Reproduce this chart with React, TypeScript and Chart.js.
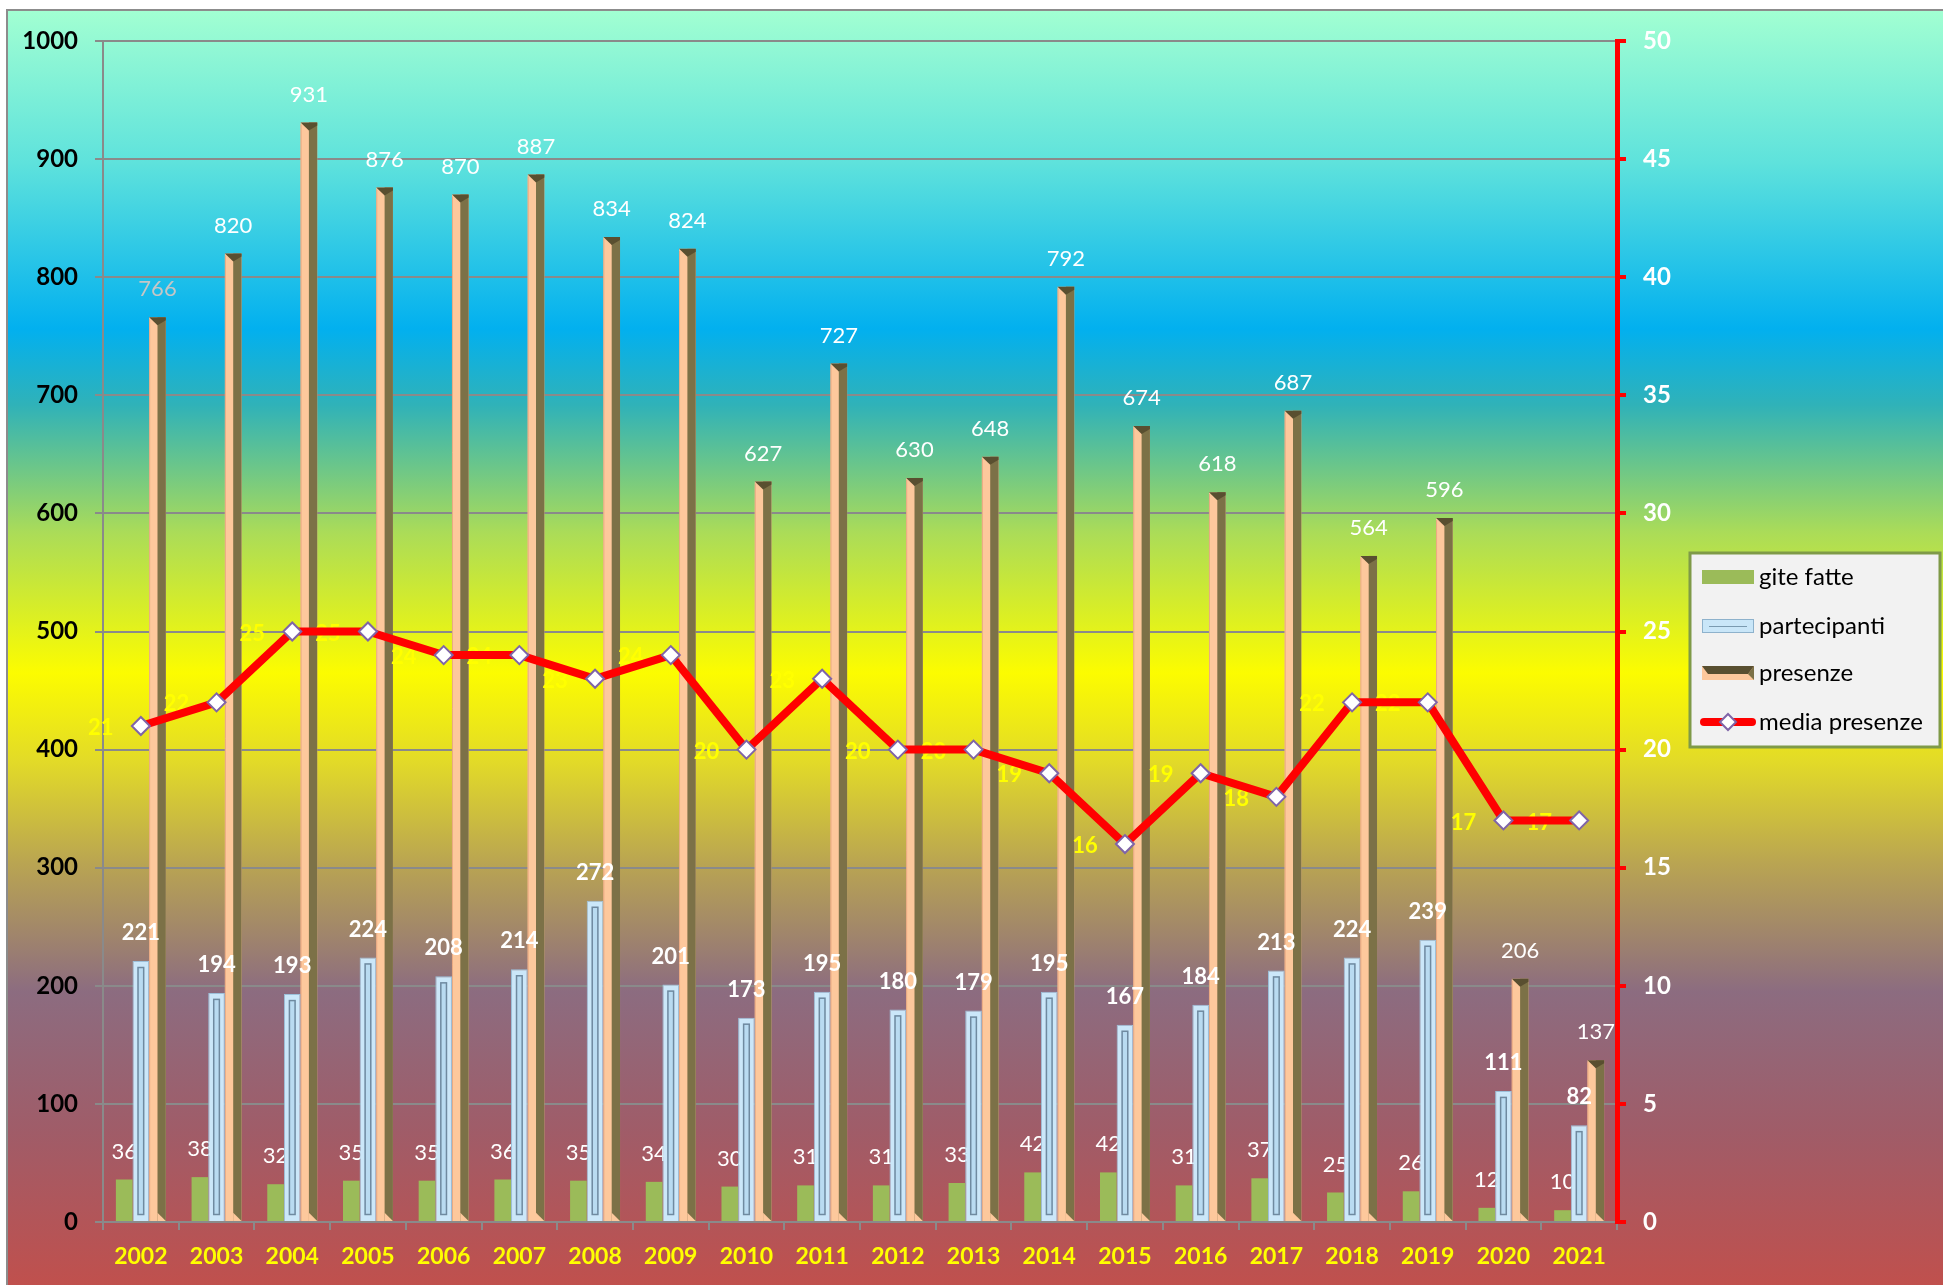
import React, { useEffect, useRef } from "react";
import { Chart, registerables } from "chart.js";

Chart.register(...registerables);

const YEARS = ["2002","2003","2004","2005","2006","2007","2008","2009","2010","2011","2012","2013","2014","2015","2016","2017","2018","2019","2020","2021"];
const GITE_FATTE = [36,38,32,35,35,36,35,34,30,31,31,33,42,42,31,37,25,26,12,10];
const PARTECIPANTI = [221,194,193,224,208,214,272,201,173,195,180,179,195,167,184,213,224,239,111,82];
const PRESENZE = [766,820,931,876,870,887,834,824,627,727,630,648,792,674,618,687,564,596,206,137];
const MEDIA_PRESENZE = [21,22,25,25,24,24,23,24,20,23,20,20,19,16,19,18,22,22,17,17];
const LEGEND_LABELS = ["gite fatte","partecipanti","presenze","media presenze"];

const FONT = "Lato, 'Open Sans', sans-serif";
const W = 1943;
const H = 1285;

const bgPlugin = {
  id: "bg",
  beforeDraw(chart: any) {
    const ctx = chart.ctx;
    ctx.save();
    ctx.fillStyle = "#ffffff";
    ctx.fillRect(0, 0, chart.width, chart.height);
    const g = ctx.createLinearGradient(0, 10, 0, chart.height);
    g.addColorStop(0, "#a2ffd2");
    g.addColorStop(0.12, "#5ee2dc");
    g.addColorStop(0.25, "#02b0ef");
    g.addColorStop(0.31, "#30b2b8");
    g.addColorStop(0.41, "#abdc58");
    g.addColorStop(0.52, "#fcfc00");
    g.addColorStop(0.59, "#e2da28");
    g.addColorStop(0.67, "#b9a452");
    g.addColorStop(0.77, "#8c6c80");
    g.addColorStop(0.88, "#a05c68");
    g.addColorStop(1, "#c0504d");
    ctx.fillStyle = g;
    ctx.fillRect(7, 10, chart.width - 7, chart.height - 10);
    ctx.strokeStyle = "#8c8c8c";
    ctx.lineWidth = 2;
    ctx.beginPath();
    ctx.moveTo(7, chart.height);
    ctx.lineTo(7, 10);
    ctx.lineTo(chart.width, 10);
    ctx.stroke();
    ctx.restore();
  },
};

function text(ctx: any, s: string, x: number, y: number, color: string, weight: string, size: number = 22) {
  ctx.font = `${weight} ${size}px ${FONT}`;
  ctx.fillStyle = color;
  ctx.textAlign = "center";
  ctx.textBaseline = "middle";
  ctx.fillText(s, x, y);
}

// dataset indexes: 0 gite, 1 partecipanti, 2 presenze, 3 media
// draw sequence of bars: presenze (2) -> partecipanti (1) -> gite (0) -> line (3)
const decorPlugin = {
  id: "decor",
  afterDatasetDraw(chart: any, args: any) {
    const ctx = chart.ctx;
    const idx = args.index;
    ctx.save();
    if (idx === 2) {
      const meta = chart.getDatasetMeta(2);
      meta.data.forEach((el: any) => {
        const p = el.getProps(["x", "y", "base", "width"], true);
        const l = p.x - p.width / 2;
        const r = p.x + p.width / 2;
        const m = p.x;
        ctx.fillStyle = "#7c7147";
        ctx.fillRect(m, p.y, r - m, p.base - p.y);
        ctx.fillStyle = "#fdc89c";
        ctx.beginPath();
        ctx.moveTo(m, p.base - (r - m));
        ctx.lineTo(r, p.base);
        ctx.lineTo(m, p.base);
        ctx.closePath();
        ctx.fill();
        ctx.fillStyle = "#594f30";
        ctx.beginPath();
        ctx.moveTo(l, p.y);
        ctx.lineTo(r, p.y);
        ctx.lineTo(r, p.y + 3);
        ctx.lineTo(m, p.y + 8);
        ctx.closePath();
        ctx.fill();
        ctx.strokeStyle = "#eaa982";
        ctx.lineWidth = 1;
        ctx.beginPath();
        ctx.moveTo(l + 0.5, p.y + 2);
        ctx.lineTo(l + 0.5, p.base);
        ctx.stroke();
      });
      // gite labels sit behind the partecipanti bars
      const m0 = chart.getDatasetMeta(0);
      m0.data.forEach((el: any, i: number) => {
        const p = el.getProps(["x", "y"], true);
        text(ctx, String(GITE_FATTE[i]), p.x, p.y - 28, "#ffffff", "normal");
      });
    } else if (idx === 1) {
      const meta = chart.getDatasetMeta(1);
      meta.data.forEach((el: any) => {
        const p = el.getProps(["x", "y", "base", "width"], true);
        const l = p.x - p.width / 2;
        const w = p.width;
        const h = p.base - p.y;
        ctx.fillStyle = "#b9dbf1";
        ctx.fillRect(l + 5, p.y + 6, w - 10, h - 12);
        ctx.strokeStyle = "#6f8aa0";
        ctx.lineWidth = 1.5;
        ctx.strokeRect(l + 5.5, p.y + 6.5, w - 11, h - 13);
      });
    } else if (idx === 0) {
      const m1 = chart.getDatasetMeta(1);
      m1.data.forEach((el: any, i: number) => {
        const p = el.getProps(["x", "y"], true);
        text(ctx, String(PARTECIPANTI[i]), p.x, p.y - 28, "#ffffff", "bold");
      });
      const m2 = chart.getDatasetMeta(2);
      m2.data.forEach((el: any, i: number) => {
        const p = el.getProps(["x", "y"], true);
        text(ctx, String(PRESENZE[i]), p.x, p.y - 28, i === 0 ? "#c6c6c6" : "#ffffff", "normal");
      });
      const m3 = chart.getDatasetMeta(3);
      m3.data.forEach((el: any, i: number) => {
        const p = el.getProps(["x", "y"], true);
        text(ctx, String(MEDIA_PRESENZE[i]), p.x - 40, p.y + 2, "#ffff00", "bold");
      });
    }
    ctx.restore();
  },
  afterDraw(chart: any) {
    const ctx = chart.ctx;
    ctx.save();
    const bx = 1690, by = 553, bw = 250, bh = 194;
    ctx.fillStyle = "#f2f2f2";
    ctx.fillRect(bx, by, bw, bh);
    ctx.strokeStyle = "#7f9a48";
    ctx.lineWidth = 3;
    ctx.strokeRect(bx, by, bw, bh);
    const rows = [577, 626, 673, 722];
    const sx = 1702, sw = 52;
    ctx.fillStyle = "#9bbb59";
    ctx.fillRect(sx, rows[0] - 7, sw, 14);
    ctx.fillStyle = "#c9e6f8";
    ctx.fillRect(sx, rows[1] - 7, sw, 14);
    ctx.strokeStyle = "#8eb2cc";
    ctx.lineWidth = 1;
    ctx.strokeRect(sx + 0.5, rows[1] - 6.5, sw - 1, 13);
    ctx.strokeStyle = "#7a9ab0";
    ctx.beginPath();
    ctx.moveTo(sx + 7, rows[1] + 0.5);
    ctx.lineTo(sx + sw - 7, rows[1] + 0.5);
    ctx.stroke();
    ctx.fillStyle = "#fdc89c";
    ctx.fillRect(sx, rows[2] - 7, sw, 14);
    ctx.fillStyle = "#7c7147";
    ctx.beginPath();
    ctx.moveTo(sx + sw, rows[2] - 7);
    ctx.lineTo(sx + sw, rows[2] + 7);
    ctx.lineTo(sx + sw - 6, rows[2] + 1);
    ctx.closePath();
    ctx.fill();
    ctx.fillStyle = "#594f30";
    ctx.beginPath();
    ctx.moveTo(sx, rows[2] - 7);
    ctx.lineTo(sx + sw, rows[2] - 7);
    ctx.lineTo(sx + sw - 6, rows[2] + 1);
    ctx.lineTo(sx + 6, rows[2] + 1);
    ctx.closePath();
    ctx.fill();
    ctx.strokeStyle = "#ff0000";
    ctx.lineWidth = 8;
    ctx.lineCap = "round";
    ctx.beginPath();
    ctx.moveTo(sx + 2, rows[3]);
    ctx.lineTo(sx + sw - 2, rows[3]);
    ctx.stroke();
    ctx.lineCap = "butt";
    const cx = sx + sw / 2, cy = rows[3], rr = 8;
    ctx.fillStyle = "#ffffff";
    ctx.strokeStyle = "#7f64a8";
    ctx.lineWidth = 2;
    ctx.beginPath();
    ctx.moveTo(cx, cy - rr);
    ctx.lineTo(cx + rr, cy);
    ctx.lineTo(cx, cy + rr);
    ctx.lineTo(cx - rr, cy);
    ctx.closePath();
    ctx.fill();
    ctx.stroke();
    LEGEND_LABELS.forEach((s, i) => {
      ctx.font = `normal 24px ${FONT}`;
      ctx.fillStyle = "#000000";
      ctx.textAlign = "left";
      ctx.textBaseline = "middle";
      ctx.fillText(s, sx + sw + 5, rows[i]);
    });
    ctx.restore();
  },
};

export default function App() {
  const ref = useRef<HTMLCanvasElement | null>(null);
  useEffect(() => {
    if (!ref.current) return;
    const chart = new Chart(ref.current, {
      type: "bar",
      data: {
        labels: YEARS,
        datasets: [
          {
            label: LEGEND_LABELS[0],
            data: GITE_FATTE,
            backgroundColor: "#9bbb59",
            yAxisID: "y",
            order: 1,
            categoryPercentage: 0.66,
            barPercentage: 1.0,
          },
          {
            label: LEGEND_LABELS[1],
            data: PARTECIPANTI,
            backgroundColor: "#cbe7f9",
            borderColor: "#9cc0da",
            borderWidth: 1,
            yAxisID: "y",
            order: 2,
            categoryPercentage: 0.66,
            barPercentage: 1.0,
          },
          {
            label: LEGEND_LABELS[2],
            data: PRESENZE,
            backgroundColor: "#fdc89c",
            yAxisID: "y",
            order: 3,
            categoryPercentage: 0.66,
            barPercentage: 1.0,
          },
          {
            type: "line",
            label: LEGEND_LABELS[3],
            data: MEDIA_PRESENZE,
            borderColor: "#ff0000",
            borderWidth: 8,
            tension: 0,
            yAxisID: "y1",
            order: 0,
            pointStyle: "rectRot",
            pointRadius: 9,
            pointBackgroundColor: "#ffffff",
            pointBorderColor: "#7f64a8",
            pointBorderWidth: 2,
          } as any,
        ],
      },
      options: {
        animation: false,
        responsive: true,
        maintainAspectRatio: false,
        layout: { padding: { top: 41, left: 0, right: 0, bottom: 0 } },
        plugins: {
          legend: { display: false },
          tooltip: { enabled: false },
        },
        scales: {
          x: {
            offset: true,
            grid: {
              offset: true,
              drawOnChartArea: false,
              drawTicks: true,
              tickLength: 8,
              color: "#8a8a8a",
              lineWidth: 2,
            },
            border: { display: true, color: "#8a8a8a", width: 2 },
            ticks: {
              color: "#ffff00",
              font: { family: FONT, size: 23, weight: "bold" },
              padding: 13,
              maxRotation: 0,
              autoSkip: false,
            },
            afterFit: (s: any) => { s.height = H - 1222; },
          },
          y: {
            position: "left",
            min: 0,
            max: 1000,
            ticks: {
              stepSize: 100,
              color: "#000000",
              font: { family: FONT, size: 24, weight: "bold" },
              padding: 17,
              callback: (v: any) => String(v),
            },
            grid: { color: "#8a8a8a", lineWidth: 2, tickLength: 8 },
            border: { color: "#8a8a8a", width: 2 },
            afterFit: (s: any) => { s.width = 103; },
          },
          y1: {
            position: "right",
            min: 0,
            max: 50,
            ticks: {
              stepSize: 5,
              color: "#ffffff",
              font: { family: FONT, size: 24, weight: "bold" },
              padding: 17,
              callback: (v: any) => String(v),
            },
            grid: { drawOnChartArea: false, drawTicks: true, color: "#ff0000", lineWidth: 4, tickLength: 9 },
            border: { color: "#ff0000", width: 5 },
            afterFit: (s: any) => { s.width = W - 1617; },
          },
        },
      } as any,
      plugins: [bgPlugin, decorPlugin],
    });
    return () => chart.destroy();
  }, []);
  return (
    <div style={{ position: "fixed", left: 0, top: 0, width: W, height: H }}>
      <canvas ref={ref} />
    </div>
  );
}
